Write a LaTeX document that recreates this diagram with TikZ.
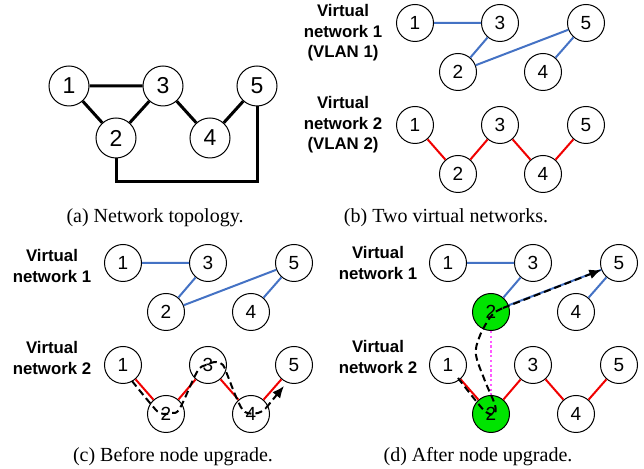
\documentclass[tikz,border=0pt]{standalone}
\usepackage{fontspec}
\setmainfont{Liberation Serif}
\setsansfont{Liberation Sans}
\usetikzlibrary{arrows.meta}

\definecolor{vblue}{RGB}{68,114,196}
\definecolor{vred}{RGB}{240,0,0}
\definecolor{vgreen}{RGB}{0,228,0}
\definecolor{vpink}{RGB}{255,90,255}

\tikzset{
  vnode/.style={circle, draw, fill=white, line width=0.5pt, minimum size=18.5pt, inner sep=0pt, font=\sffamily\fontsize{9.5}{11}\selectfont},
  bignode/.style={vnode, minimum size=20pt, font=\sffamily\fontsize{11.5}{13}\selectfont},
  phys/.style={line width=1.5pt},
  vlan1/.style={vblue, line width=1pt},
  vlan2/.style={vred, line width=1pt},
  flowline/.style={line width=1pt, dash pattern=on 3.5pt off 2pt},
  flow/.style={flowline, -{Latex[length=6pt,width=5pt]}},
  swap/.style={vpink, line width=1.2pt, dash pattern=on 1.2pt off 1.2pt},
  vlabel/.style={align=center, font=\sffamily\bfseries\fontsize{8.4}{10.3}\selectfont},
  caption/.style={font=\fontsize{10}{12}\selectfont}
}

\begin{document}
\begin{tikzpicture}[x=0.5pt,y=0.5pt]
    \useasboundingbox (0,0) rectangle (644,-469);

    % (a) physical network
    \node[bignode] (a1) at (69,-86) {1};
    \node[bignode] (a2) at (116,-138) {2};
    \node[bignode] (a3) at (163,-86) {3};
    \node[bignode] (a4) at (210,-138) {4};
    \node[bignode] (a5) at (257,-86) {5};
    \coordinate (abot) at (0,-182);
    \draw[phys] (a1) -- (a3) (a1) -- (a2) (a2) -- (a3) (a3) -- (a4) (a4) -- (a5);
    \draw[phys] (a2) -- (a2 |- abot) -| (a5);

    % virtual networks, one row per VLAN
    \foreach \p/\ox/\oy/\c in {bu/415/-23/white, bl/415/-125/white, cu/123/-263/white, cl/123/-365/white, du/448/-263/vgreen, dl/448/-365/vgreen}{
        \foreach \i/\dx/\dy in {1/0/0, 2/43/49, 3/85/0, 4/128/49, 5/171/0}{
            \ifnum\i=2 \def\fc{\c}\else\def\fc{white}\fi
            \node[vnode, fill=\fc] (\p\i) at (\ox+\dx,\oy-\dy) {\i};
        }
    }
    \foreach \p in {bu,cu,du}
        \draw[vlan1] (\p1) -- (\p3) (\p3) -- (\p2) (\p2) -- (\p5) (\p5) -- (\p4);
    \foreach \p in {bl,cl,dl}
        \draw[vlan2] (\p1) -- (\p2) (\p2) -- (\p3) (\p3) -- (\p4) (\p4) -- (\p5);

    \node[vlabel] (lb1) at (343,-33) {Virtual\\network 1\\(VLAN 1)};
    \node[vlabel] (lb2) at (343,-125) {Virtual\\network 2\\(VLAN 2)};
    \node[vlabel] (lc1) at (52,-266) {Virtual\\network 1};
    \node[vlabel] (lc2) at (52,-358) {Virtual\\network 2};
    \node[vlabel] (ld1) at (378,-263) {Virtual\\network 1};
    \node[vlabel] (ld2) at (378,-357) {Virtual\\network 2};

    % (c) path before the upgrade
    \draw[flowline] plot[smooth, tension=0.6] coordinates {
        ([shift={(9,-16)}]cl1.center) ([shift={(-16,11)}]cl2.center) ([shift={(-6,1)}]cl2.center)
        ([shift={(6,1)}]cl2.center) ([shift={(14,6)}]cl2.center) ([shift={(-11,-7)}]cl3.center)
        ([shift={(-2,0)}]cl3.center) ([shift={(8,3)}]cl3.center) ([shift={(15,0)}]cl3.center)
        ([shift={(19,-9)}]cl3.center) ([shift={(-14,15)}]cl4.center) ([shift={(-6,2)}]cl4.center)
        ([shift={(7,1)}]cl4.center) ([shift={(15,6)}]cl4.center)};
    \draw[flow] ([shift={(15,6)}]cl4.center) -- ([shift={(-10,-21)}]cl5.center);

    % (d) path after the upgrade
    \draw[swap] (du2) -- (dl2);
    \draw[flowline] plot[smooth, tension=0.6] coordinates {
        ([shift={(10,-13)}]dl1.center) ([shift={(-15,13)}]dl2.center) ([shift={(-5,2)}]dl2.center)
        ([shift={(3,0)}]dl2.center) ([shift={(4,9)}]dl2.center) ([shift={(-6,33)}]dl2.center)
        ([shift={(-15,-43)}]du2.center) ([shift={(-12,-26)}]du2.center) ([shift={(-4,-10)}]du2.center)
        ([shift={(3,-1)}]du2.center) ([shift={(12,4)}]du2.center)};
    \draw[flow] ([shift={(12,4)}]du2.center) -- (du5);

    \node[caption] (capa) at (155,-218) {(a) Network topology.};
    \node[caption] (capb) at (446,-218) {(b) Two virtual networks.};
    \node[caption] (capc) at (173,-457) {(c) Before node upgrade.};
    \node[caption] (capd) at (478,-457) {(d) After node upgrade.};
\end{tikzpicture}
\end{document}
